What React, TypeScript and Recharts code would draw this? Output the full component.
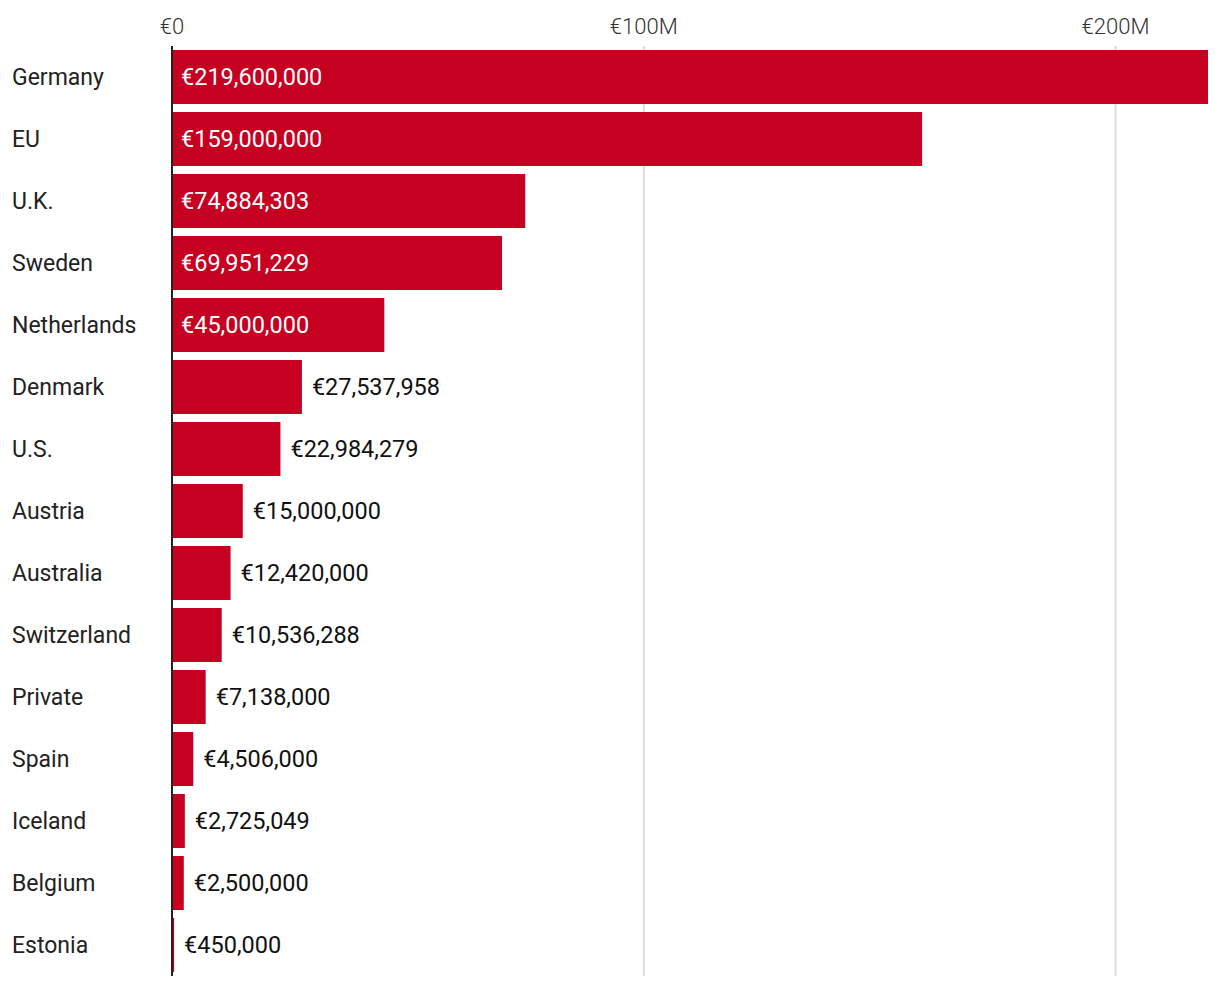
import React from "react";
import { Bar, BarChart, CartesianGrid, LabelList, XAxis, YAxis } from "recharts";

const countries = [
  "Germany",
  "EU",
  "U.K.",
  "Sweden",
  "Netherlands",
  "Denmark",
  "U.S.",
  "Austria",
  "Australia",
  "Switzerland",
  "Private",
  "Spain",
  "Iceland",
  "Belgium",
  "Estonia"
];

const pledges = [
  219600000, 159000000, 74884303, 69951229, 45000000, 27537958, 22984279, 15000000,
  12420000, 10536288, 7138000, 4506000, 2725049, 2500000, 450000
];

const axisTicks = [0, 100000000, 200000000];
const axisTickLabels = ["€0", "€100M", "€200M"];

const data = countries.map((country, i) => ({ country, value: pledges[i] }));

const font = "Roboto, 'DejaVu Sans', sans-serif";
const red = "#c60021";

function TopTick({ x, payload }: any) {
  const idx = axisTicks.indexOf(payload.value);
  return (
    <text x={x} y={26} textAnchor="middle" fill="#333" fontSize={22} fontFamily={font} fontWeight={300}>
      {axisTickLabels[idx]}
    </text>
  );
}

function CountryTick({ y, payload }: any) {
  return (
    <text x={4} y={y} dy="0.35em" textAnchor="start" fill="#222" fontSize={23} fontFamily={font}>
      {payload.value}
    </text>
  );
}

function ValueLabel({ x, y, width, height, value }: any) {
  const inside = value >= 40000000;
  const text = "€" + Number(value).toLocaleString("en-US");
  return (
    <text
      x={inside ? x + 9 : x + width + 10}
      y={y + height / 2}
      dy="0.35em"
      textAnchor="start"
      fill={inside ? "#fff" : "#111"}
      fontSize={23.5}
      fontFamily={font}
    >
      {text}
    </text>
  );
}

// grid only at the real ticks, not at the plot's right edge
function gridLines({ offset }: any) {
  const max = Math.max(...pledges);
  return axisTicks.map((t) => offset.left + (offset.width * t) / max);
}

export default function App() {
  return (
    <div style={{ width: 1212, height: 972 }}>
      <BarChart
        width={1212}
        height={972}
        data={data}
        layout="vertical"
        margin={{ top: 0, right: 12, bottom: 4, left: 0 }}
        barCategoryGap={4}
      >
        <CartesianGrid
          horizontal={false}
          stroke="#dcdcdc"
          strokeWidth={2}
          verticalCoordinatesGenerator={gridLines}
        />
        <XAxis
          type="number"
          orientation="top"
          domain={[0, "dataMax"]}
          ticks={axisTicks}
          height={38}
          axisLine={false}
          tickLine={false}
          tick={<TopTick />}
        />
        <YAxis
          type="category"
          dataKey="country"
          width={164}
          axisLine={{ stroke: "#222", strokeWidth: 2 }}
          tickLine={false}
          tick={<CountryTick />}
        />
        <Bar dataKey="value" fill={red} isAnimationActive={false}>
          <LabelList dataKey="value" content={<ValueLabel />} />
        </Bar>
      </BarChart>
    </div>
  );
}
